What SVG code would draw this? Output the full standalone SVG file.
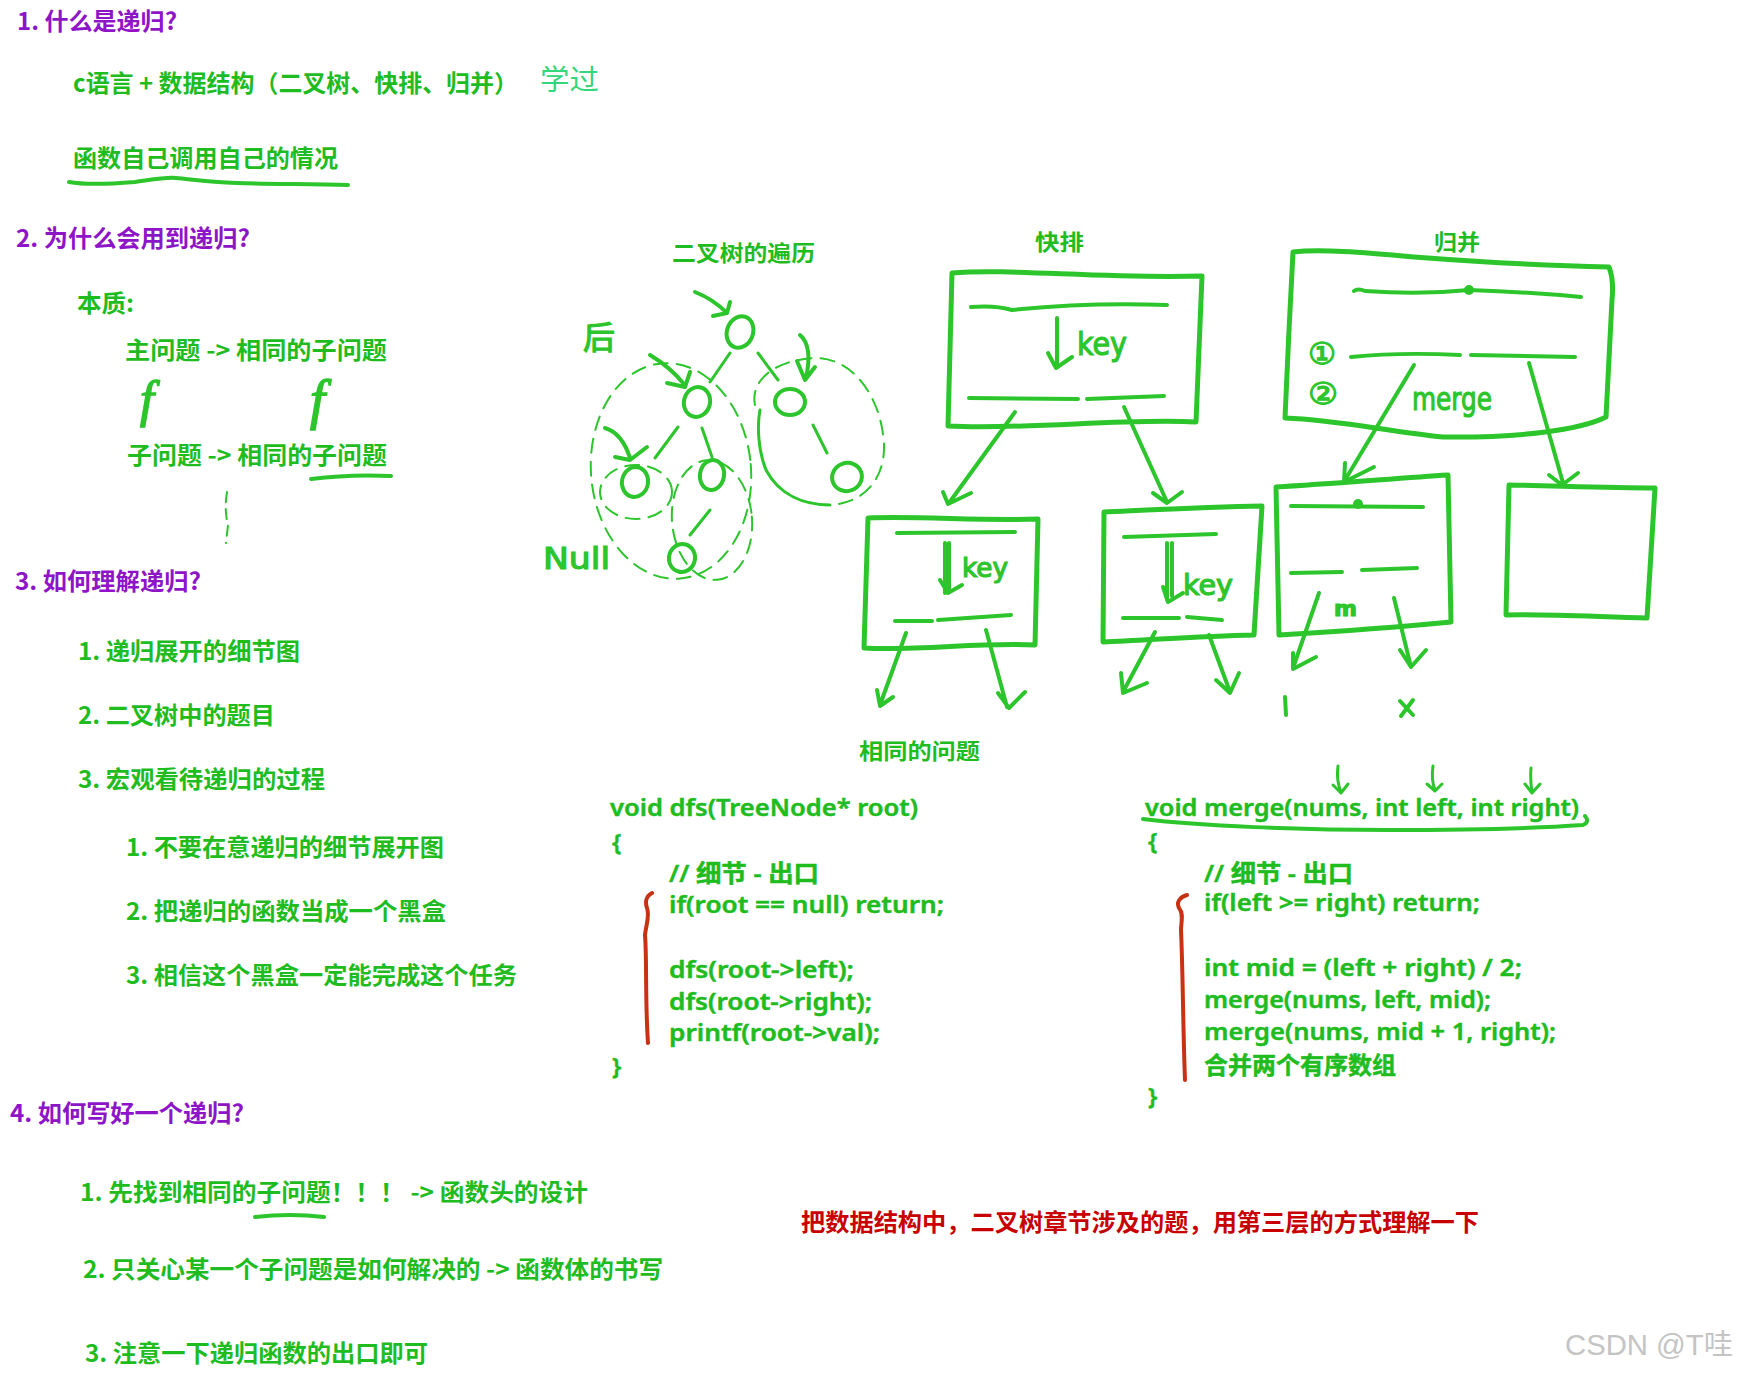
<svg xmlns="http://www.w3.org/2000/svg" width="1738" height="1375" viewBox="0 0 1738 1375">
<style>
.h{font-family:"Noto Sans CJK SC","Noto Sans",sans-serif;font-weight:700;font-size:24px;fill:#8e14c8}
.t{font-family:"Noto Sans CJK SC","Noto Sans",sans-serif;font-weight:700;font-size:24px;fill:#1fbc1f}
.c{font-family:"Noto Sans","Noto Sans CJK SC",sans-serif;font-weight:600;font-size:24px;fill:#1fbc1f;stroke:#1fbc1f;stroke-width:0.5}
.lbl{font-family:"Noto Sans CJK SC",sans-serif;font-weight:700;font-size:22px;fill:#1fbc1f}
.hw{font-family:"DejaVu Sans","Noto Sans CJK SC",sans-serif;fill:#2cc52c;stroke:#2cc52c;stroke-width:1.2}
.red{font-family:"Noto Sans CJK SC",sans-serif;font-weight:700;font-size:24px;fill:#c80000}
.ink{fill:none;stroke:#2cc52c;stroke-width:4;stroke-linecap:round;stroke-linejoin:round}
.thin{fill:none;stroke:#2cc52c;stroke-width:3;stroke-linecap:round;stroke-linejoin:round}
.box{fill:none;stroke:#2cc52c;stroke-width:5;stroke-linecap:round;stroke-linejoin:round}
.dash{fill:none;stroke:#2cc52c;stroke-width:2;stroke-dasharray:14 9;stroke-linecap:round}
.brace{fill:none;stroke:#c83214;stroke-width:4;stroke-linecap:round;stroke-linejoin:round}
</style>
<rect width="1738" height="1375" fill="#ffffff"/>

<g id="section1">
<text class="h" x="17" y="30" textLength="160" lengthAdjust="spacingAndGlyphs">1. 什么是递归?</text>
<text class="t" x="73" y="92" textLength="445" lengthAdjust="spacingAndGlyphs">c语言 + 数据结构（二叉树、快排、归并）</text>
<text x="540" y="90" font-family="Noto Sans CJK SC,sans-serif" font-size="28" fill="#33d67a" textLength="59" lengthAdjust="spacingAndGlyphs">学过</text>
<text class="t" x="73" y="167" textLength="265" lengthAdjust="spacingAndGlyphs">函数自己调用自己的情况</text>
<path class="ink" d="M69,182 C85,185 110,184 135,182 C150,180 165,177 176,178 C190,179 205,182 237,183 C270,184 310,184 348,185"/>
</g>

<g id="section2">
<text class="h" x="16" y="247" textLength="234" lengthAdjust="spacingAndGlyphs">2. 为什么会用到递归?</text>
<text class="t" x="77" y="312" textLength="57" lengthAdjust="spacingAndGlyphs">本质:</text>
<text class="t" x="125" y="359" textLength="262" lengthAdjust="spacingAndGlyphs">主问题 -&gt; 相同的子问题</text>
<text x="140" y="416" font-family="Liberation Serif,serif" font-style="italic" font-size="50" fill="#2cc52c" stroke="#2cc52c" stroke-width="1.5">f</text>
<text x="310" y="418" font-family="Liberation Serif,serif" font-style="italic" font-size="54" fill="#2cc52c" stroke="#2cc52c" stroke-width="1.5">f</text>
<text class="t" x="127" y="464" textLength="260" lengthAdjust="spacingAndGlyphs">子问题 -&gt; 相同的子问题</text>
<path class="ink" d="M311,479 Q350,474 391,476"/>
<path class="dash" style="stroke-dasharray:10 7" d="M227,492 Q224,510 228,525 L226,543"/>
</g>

<g id="section3">
<text class="h" x="15" y="590" textLength="186" lengthAdjust="spacingAndGlyphs">3. 如何理解递归?</text>
<text class="t" x="78" y="660" textLength="222" lengthAdjust="spacingAndGlyphs">1. 递归展开的细节图</text>
<text class="t" x="78" y="724" textLength="197" lengthAdjust="spacingAndGlyphs">2. 二叉树中的题目</text>
<text class="t" x="78" y="788" textLength="247" lengthAdjust="spacingAndGlyphs">3. 宏观看待递归的过程</text>
<text class="t" x="126" y="856" textLength="318" lengthAdjust="spacingAndGlyphs">1. 不要在意递归的细节展开图</text>
<text class="t" x="126" y="920" textLength="320" lengthAdjust="spacingAndGlyphs">2. 把递归的函数当成一个黑盒</text>
<text class="t" x="126" y="984" textLength="391" lengthAdjust="spacingAndGlyphs">3. 相信这个黑盒一定能完成这个任务</text>
</g>

<g id="section4">
<text class="h" x="10" y="1122" textLength="234" lengthAdjust="spacingAndGlyphs">4. 如何写好一个递归?</text>
<text class="t" x="80" y="1201" textLength="508" lengthAdjust="spacingAndGlyphs">1. 先找到相同的子问题！！！ -&gt; 函数头的设计</text>
<path class="ink" d="M255,1217 Q290,1213 324,1217"/>
<text class="t" x="83" y="1278" textLength="580" lengthAdjust="spacingAndGlyphs">2. 只关心某一个子问题是如何解决的 -&gt; 函数体的书写</text>
<text class="t" x="85" y="1362" textLength="343" lengthAdjust="spacingAndGlyphs">3. 注意一下递归函数的出口即可</text>
</g>

<g id="note">
<text class="red" x="801" y="1231" textLength="678" lengthAdjust="spacingAndGlyphs">把数据结构中，二叉树章节涉及的题，用第三层的方式理解一下</text>
</g>

<g id="watermark">
<text x="1565" y="1355" font-family="Liberation Sans,Noto Sans CJK SC,sans-serif" font-size="29" fill="#c4c4c4" textLength="168" lengthAdjust="spacingAndGlyphs">CSDN @T哇</text>
</g>

<g id="tree">
<text class="lbl" x="672" y="261" textLength="143" lengthAdjust="spacingAndGlyphs">二叉树的遍历</text>
<ellipse class="ink" cx="740" cy="332" rx="13" ry="16" transform="rotate(20 740 332)"/>
<ellipse class="ink" cx="697" cy="402" rx="13" ry="15" transform="rotate(15 697 402)"/>
<ellipse class="ink" cx="790" cy="402" rx="15" ry="13"/>
<ellipse class="ink" cx="635" cy="482" rx="13" ry="15" transform="rotate(10 635 482)"/>
<ellipse class="ink" cx="712" cy="475" rx="12" ry="15" transform="rotate(10 712 475)"/>
<ellipse class="ink" cx="847" cy="477" rx="15" ry="14" transform="rotate(-20 847 477)"/>
<ellipse class="ink" cx="682" cy="558" rx="13" ry="14" transform="rotate(15 682 558)"/>
<path class="thin" d="M730,353 L710,382 M758,353 L778,380 M678,427 L655,458 M702,428 L712,457 M813,425 L827,453 M710,510 L690,535"/>
<path class="ink" d="M695,292 Q713,299 727,313 M713,316 L727,313 L730,302"/>
<path class="ink" d="M650,355 Q670,367 684,384 M667,383 L685,387 L690,372"/>
<path class="ink" d="M605,428 Q622,433 630,458 M615,457 L630,460 L647,447"/>
<path class="ink" d="M800,335 Q813,346 806,378 M797,361 L805,380 L815,367"/>
<ellipse class="dash" cx="671" cy="471" rx="80" ry="108" transform="rotate(-5 671 471)"/>
<ellipse class="dash" cx="712" cy="520" rx="40" ry="60" transform="rotate(-5 712 520)"/>
<ellipse class="dash" cx="636" cy="492" rx="36" ry="27"/>
<path class="dash" d="M755,405 C750,380 775,360 815,358 C855,358 882,400 884,445 C885,478 865,503 830,505"/>
<path class="thin" d="M830,505 C805,505 780,496 766,470 C758,450 757,425 760,410"/>
<text class="hw" x="583" y="349" font-size="32">后</text>
<text class="hw" x="543" y="569" font-size="30" textLength="67" lengthAdjust="spacingAndGlyphs">Null</text>
</g>

<g id="quicksort">
<text class="lbl" x="1035" y="250" textLength="49" lengthAdjust="spacingAndGlyphs">快排</text>
<g id="qs-root">
<path class="box" d="M952,273 C1010,268 1100,279 1202,276 L1196,422 C1120,418 1030,430 948,426 Z"/>
<path class="ink" d="M971,307 Q995,305 1012,310 Q1090,302 1167,305"/>
<path class="ink" d="M969,398 L1078,399 M1087,399 L1164,396"/>
<path class="ink" d="M1057,318 L1057,367 M1048,353 L1056,368 L1072,357"/>
<text class="hw" x="1077" y="355" font-size="32" textLength="50" lengthAdjust="spacingAndGlyphs">key</text>
</g>
<g id="qs-left">
<path class="box" d="M868,518 C920,516 980,521 1038,519 L1035,645 C980,642 920,651 864,648 Z"/>
<path class="ink" d="M897,533 L1015,532"/>
<path class="ink" d="M945,543 L945,593 M949,543 L949,590 M940,580 L948,593 L962,585"/>
<text class="hw" x="962" y="577" font-size="26" textLength="46" lengthAdjust="spacingAndGlyphs">key</text>
<path class="ink" d="M895,621 L932,621 M938,620 L1011,615"/>
</g>
<g id="qs-right">
<path class="box" d="M1104,512 C1150,510 1210,507 1262,506 L1254,635 C1200,636 1150,640 1103,642 Z"/>
<path class="ink" d="M1124,537 L1216,534"/>
<path class="ink" d="M1167,543 L1167,600 M1172,543 L1172,596 M1163,587 L1168,602 L1183,593"/>
<text class="hw" x="1183" y="595" font-size="28" textLength="50" lengthAdjust="spacingAndGlyphs">key</text>
<path class="ink" d="M1123,618 L1179,618 M1187,617 L1222,620"/>
</g>
</g>

<g id="mergesort">
<text class="lbl" x="1434" y="250" textLength="46" lengthAdjust="spacingAndGlyphs">归并</text>
<g id="ms-root">
<path class="box" d="M1293,252 C1320,249 1360,252 1414,257 C1480,262 1560,266 1609,267 Q1614,280 1612,300 L1606,417 C1580,430 1520,438 1443,437 C1390,432 1340,420 1285,418 L1289,330 Z"/>
<path class="ink" d="M1354,291 Q1358,288 1365,291 Q1420,295 1469,290 Q1530,292 1581,297"/>
<circle cx="1469" cy="290" r="5" fill="#2cc52c"/>
<path class="ink" d="M1351,357 Q1400,352 1460,355 M1471,355 L1575,357"/>
<text class="hw" x="1308" y="364" font-size="30" textLength="28" lengthAdjust="spacingAndGlyphs">①</text>
<text class="hw" x="1308" y="404" font-size="30" textLength="30" lengthAdjust="spacingAndGlyphs">②</text>
<text class="hw" x="1412" y="410" font-size="32" textLength="80" lengthAdjust="spacingAndGlyphs">merge</text>
</g>
<g id="ms-left">
<path class="box" d="M1276,487 C1330,484 1400,478 1448,475 L1451,622 C1400,627 1330,632 1279,635 Z"/>
<path class="ink" d="M1291,506 L1423,507"/>
<circle cx="1358" cy="504" r="5" fill="#2cc52c"/>
<path class="ink" d="M1291,573 L1342,572 M1362,570 L1417,568"/>
<text class="hw" x="1334" y="616" font-size="22" font-weight="bold">m</text>
<path class="ink" d="M1285,697 L1286,715 M1400,701 L1413,715 M1413,700 L1401,716"/>
</g>
<g id="ms-right">
<path class="box" d="M1509,485 C1560,486 1610,488 1655,488 L1647,618 C1600,617 1550,614 1506,615 Z"/>
</g>
</g>

<g id="connectors">
<path class="ink" d="M1015,412 L949,503 M943,492 L948,504 L971,493"/>
<path class="ink" d="M1124,407 L1167,502 M1153,493 L1167,503 L1182,492"/>
<path class="ink" d="M906,633 L880,705 M877,690 L880,706 L893,697"/>
<path class="ink" d="M986,630 L1007,707 M998,693 L1009,708 L1025,692"/>
<path class="ink" d="M1155,632 L1123,692 M1121,673 L1123,693 L1147,683"/>
<path class="ink" d="M1209,635 L1230,692 M1216,680 L1230,693 L1239,673"/>
<path class="ink" d="M1414,365 L1345,480 M1345,463 L1344,482 L1374,467"/>
<path class="ink" d="M1529,363 L1563,483 M1549,475 L1562,485 L1578,473"/>
<path class="ink" d="M1319,593 L1293,668 M1293,653 L1293,669 L1316,657"/>
<path class="ink" d="M1394,598 L1411,667 M1400,650 L1411,667 L1426,650"/>
</g>

<g id="code-dfs">
<text class="lbl" x="859" y="759" textLength="121" lengthAdjust="spacingAndGlyphs">相同的问题</text>
<text class="c" x="610" y="816" textLength="308" lengthAdjust="spacingAndGlyphs">void dfs(TreeNode* root)</text>
<text class="c" x="612" y="851">{</text>
<text class="c" x="669" y="882" textLength="150" lengthAdjust="spacingAndGlyphs">// 细节 - 出口</text>
<text class="c" x="669" y="913" textLength="275" lengthAdjust="spacingAndGlyphs">if(root == null) return;</text>
<text class="c" x="669" y="978" textLength="185" lengthAdjust="spacingAndGlyphs">dfs(root-&gt;left);</text>
<text class="c" x="669" y="1010" textLength="203" lengthAdjust="spacingAndGlyphs">dfs(root-&gt;right);</text>
<text class="c" x="669" y="1041" textLength="211" lengthAdjust="spacingAndGlyphs">printf(root-&gt;val);</text>
<text class="c" x="612" y="1075">}</text>
<path class="brace" d="M652,893 C646,896 645,902 647,908 C650,916 646,925 645,935 C647,960 645,1000 648,1043"/>
</g>

<g id="code-merge">
<path class="ink" style="stroke-width:3" d="M1338,766 Q1336,780 1341,792 M1333,785 L1341,793 L1348,784"/>
<path class="ink" style="stroke-width:3" d="M1433,766 Q1431,780 1435,790 M1427,784 L1435,791 L1442,784"/>
<path class="ink" style="stroke-width:3" d="M1531,768 Q1530,780 1532,792 M1525,784 L1532,793 L1540,784"/>
<text class="c" x="1145" y="816" textLength="434" lengthAdjust="spacingAndGlyphs">void merge(nums, int left, int right)</text>
<path class="ink" d="M1143,819 C1200,826 1300,830 1390,830 C1470,830 1540,828 1583,825 Q1590,822 1585,816"/>
<text class="c" x="1148" y="850">{</text>
<text class="c" x="1204" y="882" textLength="149" lengthAdjust="spacingAndGlyphs">// 细节 - 出口</text>
<text class="c" x="1204" y="911" textLength="276" lengthAdjust="spacingAndGlyphs">if(left &gt;= right) return;</text>
<text class="c" x="1204" y="976" textLength="318" lengthAdjust="spacingAndGlyphs">int mid = (left + right) / 2;</text>
<text class="c" x="1204" y="1008" textLength="287" lengthAdjust="spacingAndGlyphs">merge(nums, left, mid);</text>
<text class="c" x="1204" y="1040" textLength="352" lengthAdjust="spacingAndGlyphs">merge(nums, mid + 1, right);</text>
<text class="c" x="1204" y="1074" textLength="192" lengthAdjust="spacingAndGlyphs">合并两个有序数组</text>
<text class="c" x="1148" y="1105">}</text>
<path class="brace" d="M1187,895 C1180,897 1176,902 1179,908 C1184,914 1181,922 1181,930 C1183,975 1183,1030 1185,1080"/>
</g>
</svg>
